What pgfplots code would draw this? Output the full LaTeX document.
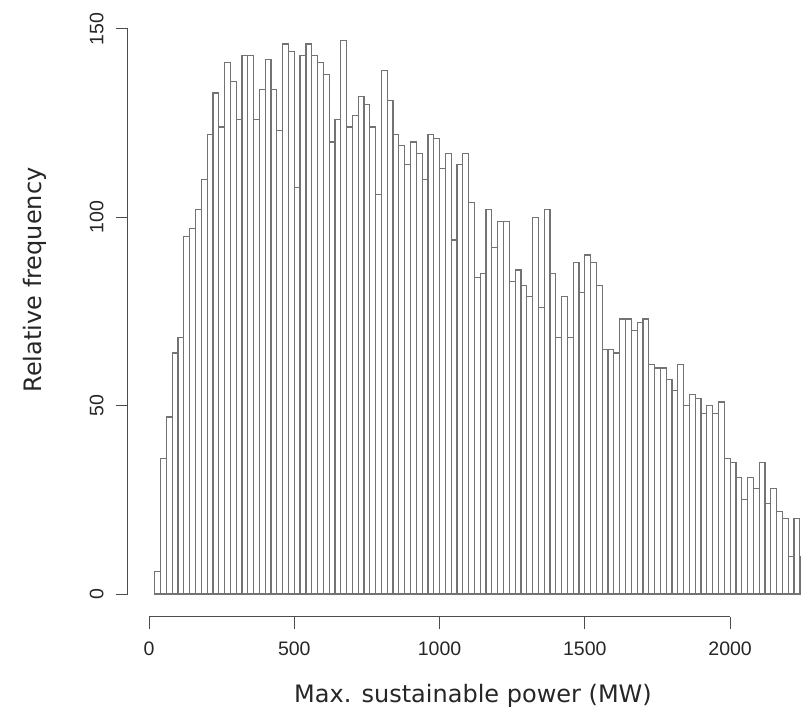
\documentclass[border=0pt]{standalone}
\usepackage{pgfplots}
\pgfplotsset{compat=1.18}
\usepackage{fontspec}
\setmainfont{Liberation Sans}
\newfontfamily\titlefont{DejaVu Sans}
\pgfplotstableread{
x y
20 6
40 36
60 47
80 64
100 68
120 95
140 97
160 102
180 110
200 122
220 133
240 124
260 141
280 136
300 126
320 143
340 143
360 126
380 134
400 142
420 134
440 123
460 146
480 144
500 108
520 143
540 146
560 143
580 141
600 138
620 120
640 126
660 147
680 124
700 127
720 132
740 130
760 124
780 106
800 139
820 131
840 122
860 119
880 114
900 120
920 117
940 110
960 122
980 121
1000 113
1020 117
1040 94
1060 114
1080 117
1100 104
1120 84
1140 85
1160 102
1180 92
1200 99
1220 99
1240 83
1260 86
1280 82
1300 79
1320 100
1340 76
1360 102
1380 85
1400 68
1420 79
1440 68
1460 88
1480 80
1500 90
1520 88
1540 82
1560 65
1580 65
1600 64
1620 73
1640 73
1660 70
1680 72
1700 73
1720 61
1740 60
1760 60
1780 57
1800 54
1820 61
1840 50
1860 53
1880 52
1900 48
1920 50
1940 48
1960 51
1980 36
2000 35
2020 31
2040 25
2060 31
2080 28
2100 35
2120 24
2140 28
2160 22
2180 20
2200 10
2220 20
2240 10
2244 0
}\histdata
\begin{document}
\begin{tikzpicture}[x=1pt,y=1pt]
\useasboundingbox (0,0) rectangle (801,712);
\begin{axis}[
  at={(128pt,95pt)}, anchor=south west,
  scale only axis, width=673pt, height=588pt,
  xmin=-72.3, xmax=2244, ymin=-6.1, ymax=150,
  clip=false,
  axis x line*=bottom, axis y line*=left,
  x axis line style={draw=none}, y axis line style={draw=none},
  xtick={0,500,1000,1500,2000}, ytick={0,50,100,150},
  tick align=outside, major tick length=12pt,
  tick style={black!70, line width=1pt},
  /pgf/number format/assume math mode=true,
  /pgf/number format/1000 sep={},
  tick label style={font=\fontsize{19.5}{19.5}\selectfont, text=black!85},
  xticklabel style={yshift=-9pt},
  yticklabel style={xshift=-9pt, rotate=90, anchor=south},
]
\addplot[ybar interval=1, draw=black!55, fill=white, line width=1.2pt] table[x=x,y=y] {\histdata};
\draw[black!70, line width=1pt] (axis cs:-72.3,0) -- (axis cs:-72.3,150);
\draw[black!70, line width=1pt] (axis cs:0,-6.1) -- (axis cs:2000,-6.1);
\end{axis}
\node[rotate=90, font=\titlefont\fontsize{24}{24}\selectfont, text=black!85] at (35,432) {Relative frequency};
\node[anchor=base, font=\titlefont\fontsize{24}{24}\selectfont, text=black!85] at (473,9) {Max. sustainable power (MW)};
\end{tikzpicture}
\end{document}
